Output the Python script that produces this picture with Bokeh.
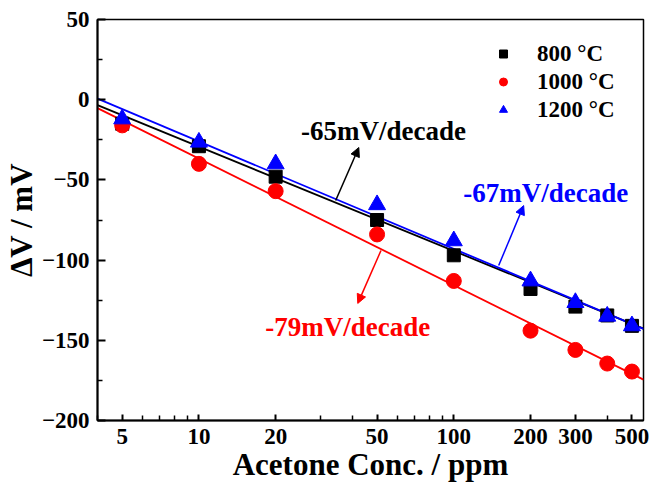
import numpy as np
from bokeh.plotting import figure
from bokeh.models import FixedTicker, Arrow, NormalHead, Label, Legend, LegendItem, Range1d
from bokeh.embed import file_html
from bokeh.resources import INLINE

# ---- data ----
conc = [5, 10, 20, 50, 100, 200, 300, 400, 500]
dv_800 = [-15, -29, -48, -75, -97, -118, -129, -134.5, -141]
dv_1000 = [-16, -40, -57, -84, -113, -144, -156, -164.5, -169.5]
dv_1200 = [-12, -26.5, -40, -65.5, -88, -113, -126.5, -135, -141]
series_labels = ["800 °C", "1000 °C", "1200 °C"]
series_colors = ["black", "red", "blue"]
fit_slopes = [-65, -79, -67]          # mV / decade
fit_at_10ppm = [-29.3, -36.7, -26.0]  # fitted value at 10 ppm
x_ticks = [5, 10, 20, 50, 100, 200, 300, 500]
x_minor = [4, 6, 7, 8, 9, 30, 40, 60, 70, 80, 90, 400]
y_ticks = [-200, -150, -100, -50, 0, 50]
y_minor = [-175, -125, -75, -25, 25]

FONT = "Liberation Serif"

p = figure(width=652, height=485, x_axis_type="log", output_backend="svg",
           toolbar_location=None, x_range=Range1d(4, 555), y_range=Range1d(-200, 50),
           min_border_left=96, min_border_right=9, min_border_top=19, min_border_bottom=65)
p.background_fill_color = "white"
p.border_fill_color = "white"
p.outline_line_color = "black"
p.outline_line_width = 1.5
p.grid.visible = False

# fit lines
xl = np.array([4.0, 555.0])
for s, b, c in zip(fit_slopes, fit_at_10ppm, series_colors):
    p.line(xl, b + s * (np.log10(xl) - 1), line_color=c, line_width=1.8)

r1 = p.scatter(conc, dv_800, marker="square", size=13, color="black")
r2 = p.scatter(conc, dv_1000, marker="circle", size=15, color="red")
r3 = p.scatter(conc, dv_1200, marker="triangle", size=17, color="blue")

# axes
for ax in (p.xaxis[0], p.yaxis[0]):
    ax.axis_line_width = 2
    ax.major_tick_line_width = 2
    ax.minor_tick_line_width = 1.5
    ax.major_tick_in = 8
    ax.major_tick_out = 0
    ax.minor_tick_in = 5
    ax.minor_tick_out = 0
    ax.major_label_text_font = FONT
    ax.major_label_text_font_style = "bold"
    ax.major_label_text_font_size = "23px"
    ax.major_label_text_color = "black"
    ax.axis_label_text_font = FONT
    ax.axis_label_text_font_style = "bold"
    ax.axis_label_text_font_size = "31px"
    ax.axis_label_text_color = "black"

p.xaxis.ticker = FixedTicker(ticks=x_ticks, minor_ticks=x_minor)
p.xaxis.major_label_overrides = {t: str(t) for t in x_ticks}
p.xaxis.major_tick_in = 6
p.yaxis.ticker = FixedTicker(ticks=y_ticks, minor_ticks=y_minor)
p.xaxis.axis_label = "Acetone Conc. / ppm"
p.yaxis.axis_label = "ΔV / mV"
p.xaxis.axis_label_standoff = 0
p.yaxis.axis_label_standoff = 0
p.xaxis.major_label_standoff = 8
p.yaxis.major_label_standoff = 8

# annotations
def label(x, y, txt, color):
    p.add_layout(Label(x=x, y=y, text=txt, text_color=color, text_font=FONT,
                       text_font_style="bold", text_font_size="27px",
                       text_align="center", text_baseline="middle"))

def arrow(x0, y0, x1, y1, color):
    p.add_layout(Arrow(x_start=x0, y_start=y0, x_end=x1, y_end=y1,
                       line_color=color, line_width=1.5,
                       end=NormalHead(size=9, fill_color=color, line_color=color)))

label(53, -19.8, "-65mV/decade", "black")
arrow(34.4, -62.8, 42.4, -29.8, "black")
label(229.6, -57.9, "-67mV/decade", "blue")
arrow(150, -103.4, 188, -66, "blue")
label(38.4, -142, "-79mV/decade", "red")
arrow(51.8, -94, 42, -127, "red")

legend = Legend(items=[LegendItem(label=series_labels[0], renderers=[r1]),
                       LegendItem(label=series_labels[1], renderers=[r2]),
                       LegendItem(label=series_labels[2], renderers=[r3])],
                location=(386, 287))
legend.label_text_font = FONT
legend.label_text_font_style = "bold"
legend.label_text_font_size = "23px"
legend.label_text_color = "black"
legend.glyph_width = 20
legend.glyph_height = 27
legend.label_height = 27
legend.spacing = 1
legend.padding = 10
legend.label_standoff = 24
legend.border_line_alpha = 0
legend.background_fill_alpha = 0
p.add_layout(legend)

open("out.html", "w").write(file_html(p, INLINE))
